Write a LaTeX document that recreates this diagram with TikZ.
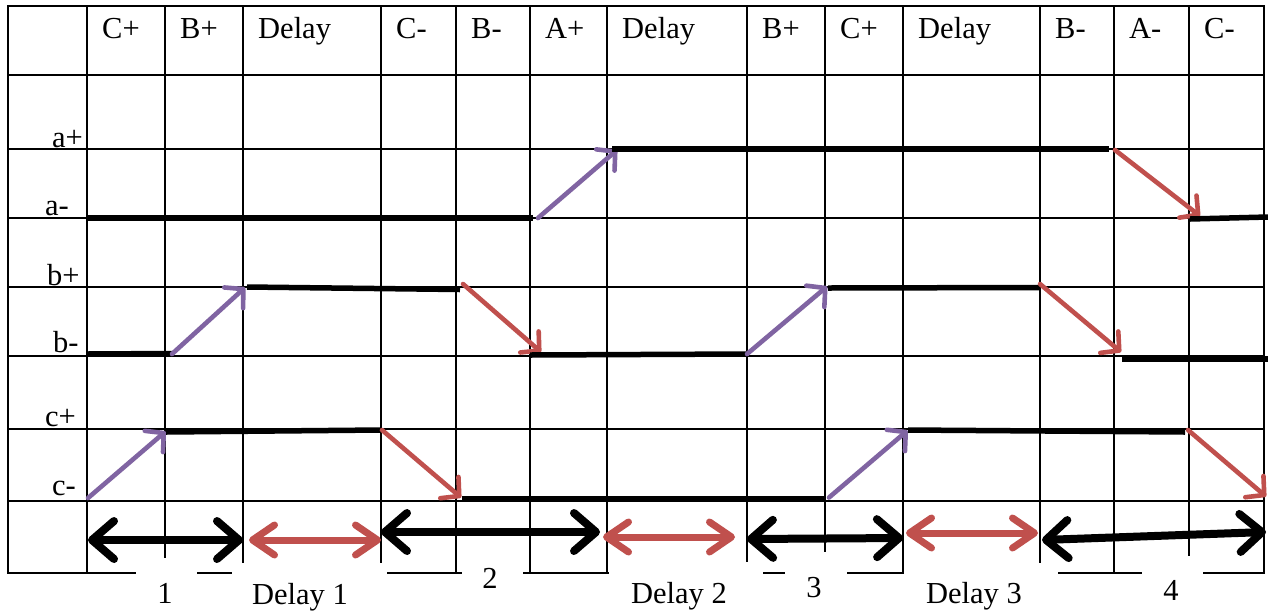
\documentclass[tikz,border=0pt]{standalone}
\usepackage{fontspec}
\setmainfont{Liberation Serif}
\usetikzlibrary{arrows.meta}
\definecolor{upc}{HTML}{8064A2}
\definecolor{dnc}{HTML}{C0504D}
\begin{document}
\begin{tikzpicture}[x=1pt,y=-1pt,
  font=\fontsize{30.5}{36}\selectfont,
  gridline/.style={line width=2.2pt, line cap=rect},
  lbl/.style={inner sep=0pt, anchor=base west},
  blbl/.style={inner sep=0pt, anchor=base},
  sig/.style={line width=5.5pt},
  upar/.style={upc, line width=4.6pt, line cap=round, -{Straight Barb[length=13pt,width=28pt,round]}},
  dnar/.style={dnc, line width=4.6pt, line cap=round, -{Straight Barb[length=13pt,width=28pt,round]}},
  blkspan/.style={black, line width=8pt, {Straight Barb[length=22pt,width=38pt,round]}-{Straight Barb[length=22pt,width=38pt,round]}},
  redspan/.style={dnc, line width=7pt, {Straight Barb[length=22pt,width=30pt,round]}-{Straight Barb[length=22pt,width=30pt,round]}}
]
\useasboundingbox (0,0) rectangle (1268,614);
\fill[white] (0,0) rectangle (1268,614);

% grid
\foreach \x in {8,87,165,243,381,456,530,607,747,825,903,1040,1114,1189,1264}
  \draw[gridline] (\x,6) -- (\x,573);
\foreach \y in {6,75,149,218,287,356,429,501,573}
  \draw[gridline] (8,\y) -- (1264,\y);

% white label boxes in bottom margin
\fill[white] (136,558) rectangle (197,578);
\fill[white] (232,563) rectangle (387,578);
\fill[white] (462,560) rectangle (523,578);
\fill[white] (608.5,562) rectangle (763,578);
\fill[white] (785,552) rectangle (847,578);
\fill[white] (904,563) rectangle (1058,578);
\fill[white] (1142,556) rectangle (1203,578);

% header texts
\node[lbl] (h1) at (102,38) {C+};
\node[lbl] (h2) at (180,38) {B+};
\node[lbl] (h3) at (258,38) {Delay};
\node[lbl] (h4) at (396,38) {C-};
\node[lbl] (h5) at (471,38) {B-};
\node[lbl] (h6) at (545,38) {A+};
\node[lbl] (h7) at (622,38) {Delay};
\node[lbl] (h8) at (762,38) {B+};
\node[lbl] (h9) at (840,38) {C+};
\node[lbl] (h10) at (918,38) {Delay};
\node[lbl] (h11) at (1055,38) {B-};
\node[lbl] (h12) at (1129,38) {A-};
\node[lbl] (h13) at (1204,38) {C-};

% row labels
\node[lbl] (ap) at (52,147) {a+};
\node[lbl] (am) at (45,215) {a-};
\node[lbl] (bp) at (47,285) {b+};
\node[lbl] (bm) at (53,352) {b-};
\node[lbl] (cp) at (45,426) {c+};
\node[lbl] (cm) at (52,495) {c-};

% bottom labels
\node[blbl] (s1) at (165,603) {1};
\node[blbl] (d1) at (300,604) {Delay 1};
\node[blbl] (s2) at (490,588) {2};
\node[blbl] (d2) at (679,603) {Delay 2};
\node[blbl] (s3) at (814,597) {3};
\node[blbl] (d3) at (974,603) {Delay 3};
\node[blbl] (s4) at (1171,600) {4};

% signal a
\draw[sig] (87,218) -- (533,218);
\draw[upar] (538,218) -- (617,150);
\draw[sig] (612,149) -- (1109,149);
\draw[dnar] (1115,150) -- (1200,216);
\draw[sig] (1190,219) -- (1268,217);

% signal b
\draw[sig] (87,354) -- (172,353.5);
\draw[upar] (172,354) -- (245,287.5);
\draw[sig] (247,287) -- (460,289.5);
\draw[dnar] (463,284) -- (541,352);
\draw[sig] (530,355) -- (747,354);
\draw[upar] (747,354) -- (827,286.5);
\draw[sig] (828,288) -- (1039,287.5);
\draw[dnar] (1040,284) -- (1121,352);
\draw[sig] (1122,359) -- (1268,359);

% signal c
\draw[upar] (88,498) -- (165.5,431.5);
\draw[sig] (166,432) -- (381,430);
\draw[dnar] (382,430) -- (461,497.5);
\draw[sig] (462,499) -- (824,499);
\draw[upar] (829,497.5) -- (907.5,430.5);
\draw[sig] (908,430) -- (1185,432);
\draw[dnar] (1188,430) -- (1266,496.5);

% span arrows
\draw[blkspan] (88,540) -- (243,540);
\draw[redspan] (249,540) -- (381,540);
\draw[blkspan] (381,532) -- (600,532);
\draw[redspan] (603,537) -- (735,537);
\draw[blkspan] (747,539) -- (903,538);
\draw[redspan] (906,533) -- (1038,533);
\draw[blkspan] (1042,540) -- (1266,532);
\end{tikzpicture}
\end{document}
